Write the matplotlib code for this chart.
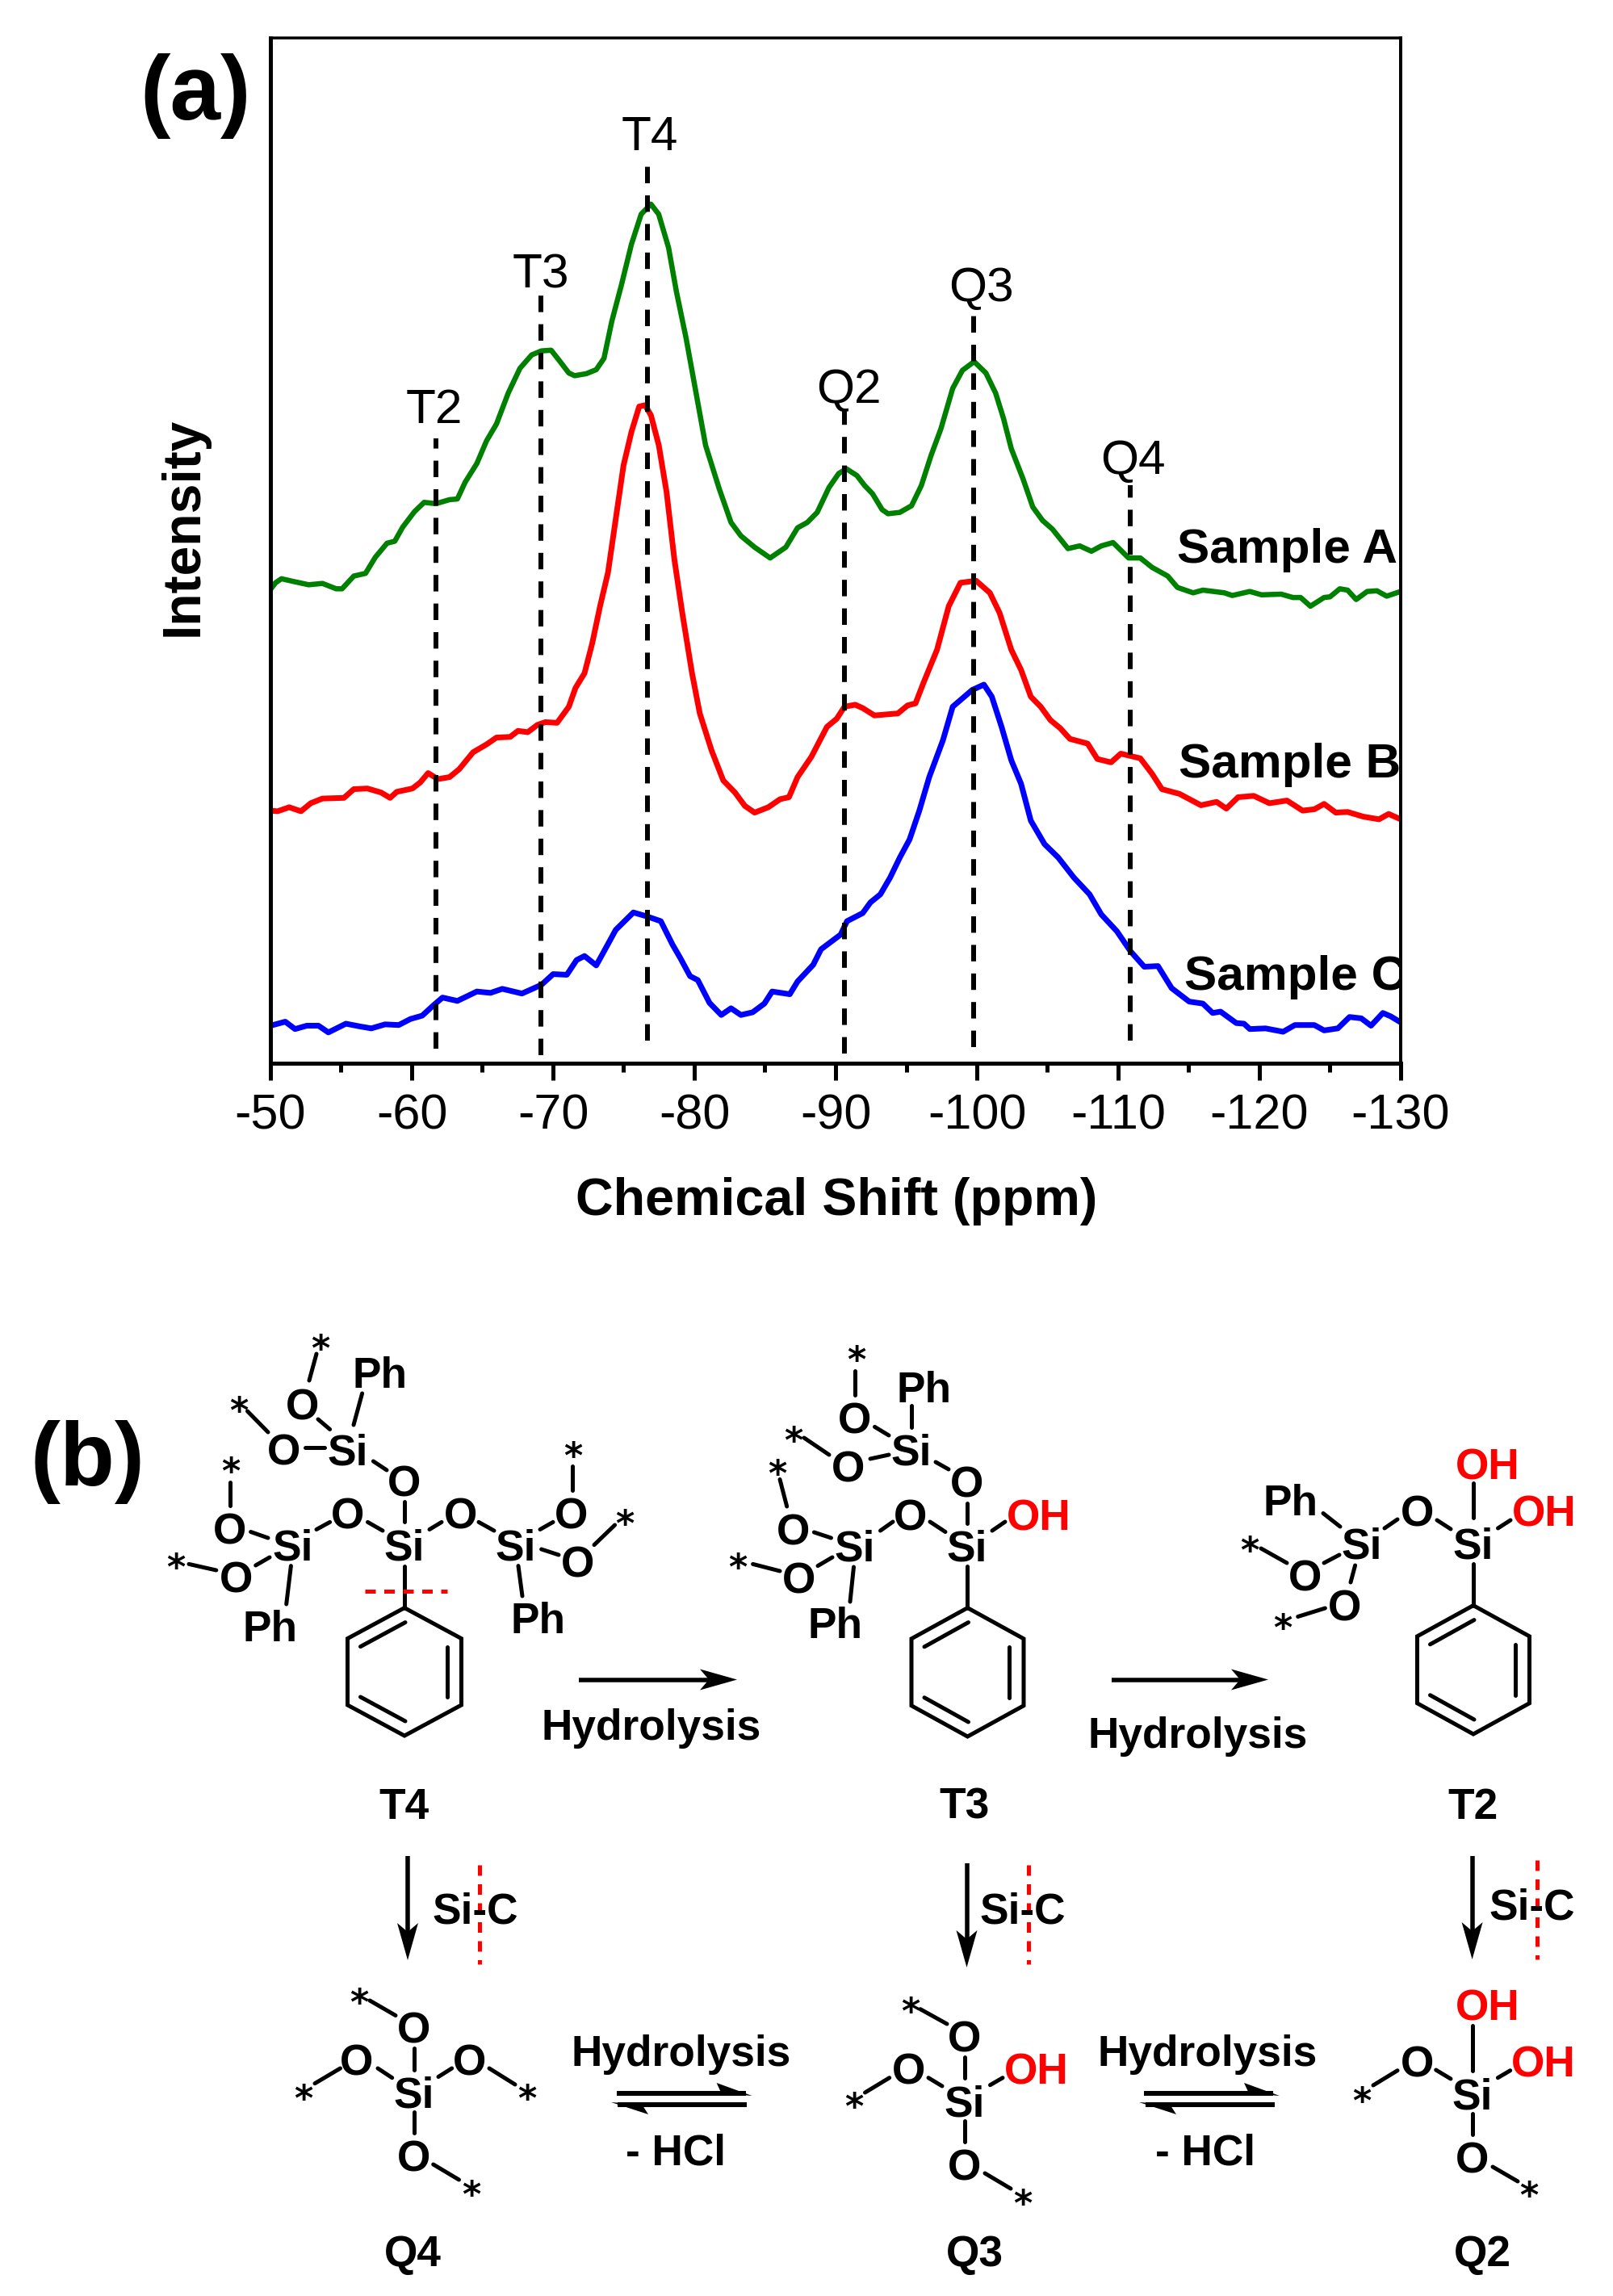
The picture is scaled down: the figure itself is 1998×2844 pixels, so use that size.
import matplotlib
matplotlib.use("Agg")
import matplotlib.pyplot as plt
from matplotlib.patches import Polygon

plt.rcParams['font.family'] = ['Liberation Sans', 'DejaVu Sans']

# Spectra (ppm, offset intensity in arbitrary units)
ppm_a = [-50.0, -50.36, -50.78, -51.61, -52.71, -53.68, -54.65, -55.07, -55.90, -56.73, -57.42, -58.25, -58.80,
         -59.36, -60.19, -60.88, -61.71, -62.68, -63.23, -63.78, -64.61, -65.30, -66.0, -66.83, -67.66, -68.49,
         -69.18, -69.87, -70.43, -71.12, -71.53, -72.36, -73.06, -73.61, -74.16, -74.85, -75.55, -76.24, -76.93,
         -77.48, -78.18, -78.73, -79.42, -80.11, -80.80, -81.77, -82.60, -83.30, -84.27, -85.37, -86.48, -87.31,
         -88.0, -88.70, -89.53, -90.22, -90.77, -91.51, -92.06, -92.61, -93.30, -93.72, -94.55, -95.38, -96.07,
         -96.76, -97.46, -98.29, -98.98, -99.81, -100.64, -101.33, -101.89, -102.44, -103.27, -103.96, -104.65,
         -105.35, -106.45, -107.28, -108.11, -108.81, -109.64, -110.74, -111.57, -112.40, -113.51, -114.20,
         -115.31, -116.0, -117.52, -118.08, -119.32, -120.15, -121.54, -122.37, -122.92, -123.61, -124.58,
         -125.0, -125.69, -126.24, -126.85, -127.63, -128.32, -129.01, -130.0]
int_a = [707, 717, 723, 719, 714, 716, 708, 708, 727, 731, 755, 776, 779,
         800, 823, 837, 835, 841, 842, 867, 895, 929, 954, 1000, 1037, 1057,
         1063, 1064, 1049, 1030, 1026, 1029, 1035, 1052, 1107, 1162, 1222, 1267, 1282,
         1267, 1217, 1152, 1082, 1002, 922, 857, 807, 787, 770, 754, 770, 799,
         807, 822, 859, 880, 887, 877, 862, 850, 826, 820, 822, 832, 862,
         907, 947, 1007, 1034, 1047, 1030, 1000, 962, 917, 872, 830, 810,
         797, 768, 772, 764, 772, 777, 754, 754, 740, 727, 710,
         702, 706, 702, 698, 704, 699, 700, 695, 695, 682, 695,
         696, 708, 706, 692, 704, 705, 697, 704]

ppm_b = [-50.0, -50.50, -51.33, -52.16, -52.85, -53.68, -55.20, -55.90, -56.86, -57.83, -58.47, -58.94, -60.05,
         -60.60, -61.16, -61.85, -62.68, -63.37, -64.34, -65.31, -66.0, -66.97, -67.52, -68.21, -68.90, -69.46,
         -70.29, -71.12, -71.59, -72.23, -72.78, -73.33, -73.89, -74.44, -74.99, -75.55, -76.10, -76.52, -76.93,
         -77.49, -78.04, -78.59, -79.15, -79.84, -80.39, -81.22, -82.05, -82.88, -83.58, -84.27, -85.24, -86.07,
         -86.70, -87.31, -88.28, -89.39, -90.08, -90.63, -91.39, -91.92, -92.75, -94.41, -95.10, -95.66, -96.21,
         -97.18, -98.01, -98.84, -99.95, -100.92, -101.61, -102.44, -103.13, -103.82, -104.52, -105.21, -105.90,
         -106.59, -107.84, -108.53, -109.50, -110.19, -111.57, -112.40, -113.10, -114.34, -115.86, -116.97,
         -117.66, -118.49, -119.60, -120.71, -121.95, -123.06, -123.89, -124.58, -125.41, -126.24, -127.35,
         -128.46, -129.15, -130.0]
int_b = [377, 376, 382, 376, 388, 395, 396, 409, 410, 404, 396, 405, 410,
         419, 433, 424, 427, 439, 464, 476, 486, 487, 496, 494, 505, 509,
         508, 532, 560, 582, 627, 682, 732, 812, 892, 942, 980, 982, 967,
         922, 852, 752, 672, 582, 522, 467, 422, 404, 384, 374, 382, 394,
         397, 427, 457, 502, 514, 532, 535, 530, 519, 522, 534, 537, 567,
         617, 682, 717, 720, 702, 672, 617, 587, 547, 532, 512, 500,
         484, 477, 454, 449, 462, 455, 432, 409, 402, 385, 390,
         380, 397, 399, 388, 392, 377, 379, 387, 374, 375, 368,
         364, 372, 364]

ppm_c = [-50.0, -51.05, -51.74, -52.57, -53.40, -54.10, -55.34, -56.31, -57.14, -58.11, -59.08, -59.91, -60.74,
         -61.57, -62.18, -63.23, -64.61, -65.58, -66.41, -67.80, -69.18, -70.01, -70.98, -71.67, -72.23, -73.06,
         -73.61, -74.44, -75.69, -76.66, -77.63, -78.46, -79.01, -79.70, -80.25, -81.08, -81.91, -82.60, -83.30,
         -84.13, -84.96, -85.51, -86.76, -87.31, -88.42, -88.97, -90.36, -90.81, -91.92, -92.47, -93.17, -93.86,
         -94.55, -95.24, -95.93, -96.63, -97.60, -98.29, -99.67, -100.50, -101.06, -101.75, -102.44, -103.13,
         -103.82, -104.79, -105.76, -106.87, -107.98, -108.81, -109.91, -110.88, -111.85, -112.82, -113.79,
         -115.03, -116.0, -116.69, -117.25, -118.36, -118.91, -119.32, -120.43, -121.68, -122.51, -123.89,
         -124.58, -125.55, -126.38, -127.21, -127.90, -128.74, -129.29, -130.0]
int_c = [56, 62, 51, 56, 56, 46, 59, 55, 52, 58, 57, 66, 71,
         87, 98, 93, 107, 105, 111, 104, 117, 133, 132, 154, 160, 146,
         167, 199, 225, 219, 212, 177, 157, 130, 124, 90, 72, 82, 72,
         76, 89, 107, 103, 122, 147, 170, 192, 212, 224, 240, 252, 277,
         307, 334, 377, 427, 482, 532, 557, 565, 547, 502, 452, 417,
         362, 327, 307, 277, 252, 222, 197, 167, 144, 145, 112,
         92, 89, 75, 77, 60, 59, 51, 52, 47, 57, 57,
         49, 52, 69, 67, 56, 75, 70, 61]

# Peak assignments: marker line position and extent, label position
peak_names = ['T2', 'T3', 'T4', 'Q2', 'Q3', 'Q4']
peak_ppm = [-61.7, -69.12, -76.67, -90.64, -99.75, -110.83]
peak_low = [22, 12, 34, 14, 24, 34]
peak_high = [932, 1147, 1352, 974, 1117, 862]
label_ppm = [-61.57, -69.14, -76.86, -90.91, -100.29, -111.06]
label_int = [955, 1157, 1362, 985, 1137, 880]

sample_names = ['Sample A', 'Sample B', 'Sample C']
sample_ppm = [-114.2, -114.3, -114.7]
sample_int = [747, 427, 110]

major_ticks = [-50, -60, -70, -80, -90, -100, -110, -120, -130]
minor_ticks = [-55, -65, -75, -85, -95, -105, -115, -125]

W, H = 1998, 2844
PX = 0.72  # one pixel in points at dpi 100

fig = plt.figure(figsize=(W / 100, H / 100), dpi=100, facecolor='white')
ax = fig.add_axes([335 / W, 1 - 1317 / H, 1400 / W, 1270 / H])

ax.plot(ppm_a, int_a, color='#008000', lw=6.5 * PX, solid_joinstyle='round')
ax.plot(ppm_b, int_b, color='#ff0000', lw=7 * PX, solid_joinstyle='round')
ax.plot(ppm_c, int_c, color='#0000ff', lw=7 * PX, solid_joinstyle='round')

for ppm, low, high in zip(peak_ppm, peak_low, peak_high):
    ax.plot([ppm, ppm], [low, high], color='black', lw=6 * PX, dashes=(3.4, 2.5), dash_capstyle='butt')
for name, x, y in zip(peak_names, label_ppm, label_int):
    ax.text(x, y, name, fontsize=43.5, ha='center', va='baseline')
for name, x, y in zip(sample_names, sample_ppm, sample_int):
    ax.text(x, y, name, fontsize=43.5, fontweight='bold', ha='left', va='baseline', clip_on=True)

ax.set_xlim(-50, -130)
ax.set_ylim(0, 1530)
ax.set_yticks([])
ax.set_xticks(major_ticks)
ax.set_xticklabels([str(t) for t in major_ticks], fontsize=44)
ax.set_xticks(minor_ticks, minor=True)
ax.tick_params(axis='x', which='major', length=21 * PX, width=5 * PX, pad=12)
ax.tick_params(axis='x', which='minor', length=11 * PX, width=5 * PX)
ax.spines['left'].set_linewidth(5 * PX)
ax.spines['bottom'].set_linewidth(5 * PX)
ax.spines['right'].set_linewidth(4 * PX)
ax.spines['top'].set_linewidth(3.5 * PX)

ax.set_xlabel('Chemical Shift (ppm)', fontsize=46.5, fontweight='bold', va='baseline')
ax.xaxis.set_label_coords(0.5007, -0.148)
ax.set_ylabel('Intensity', fontsize=47.5, fontweight='bold', va='baseline')
ax.yaxis.set_label_coords(-0.0643, 0.5235)

# Overlay in image pixels for the panel letters and the reaction scheme
pix = fig.add_axes([0, 0, 1, 1], facecolor='none')
pix.set_xlim(0, W)
pix.set_ylim(H, 0)
pix.axis('off')

FS = 38.3
EM = FS / PX


def atom(label, x, y, color='black'):
    # x, y is the centre of the letters
    pix.text(x, y + 0.358 * EM, label, fontsize=FS, fontweight='bold', color=color, ha='center', va='baseline')


def star(x, y):
    pix.text(x, y + 22, '*', fontsize=32, fontweight='bold', family='DejaVu Sans', ha='center', va='baseline')


def word(label, x, y):
    # x is the centre, y the baseline
    pix.text(x, y, label, fontsize=FS, fontweight='bold', ha='center', va='baseline')


def bonds(items):
    for x0, y0, x1, y1 in items:
        pix.plot([x0, x1], [y0, y1], color='black', lw=5 * PX, solid_capstyle='round')


def phenyl(cx, top, bottom, half):
    upper = top + (bottom - top) * 0.24
    lower = top + (bottom - top) * 0.76
    pts = [(cx, top), (cx + half, upper), (cx + half, lower), (cx, bottom), (cx - half, lower), (cx - half, upper), (cx, top)]
    pix.plot([p[0] for p in pts], [p[1] for p in pts], color='black', lw=5 * PX, solid_joinstyle='miter')
    bonds([(cx - half + 16, upper + 10, cx + 1, top + 18),
           (cx + half - 18, upper + 10, cx + half - 18, lower - 10),
           (cx - half + 16, lower - 10, cx + 1, bottom - 18)])


def arrow(x0, y0, x1, y1):
    ux = (x1 > x0) - (x1 < x0)
    uy = (y1 > y0) - (y1 < y0)
    pix.plot([x0, x1 - ux * 30], [y0, y1 - uy * 30], color='black', lw=5.5 * PX, solid_capstyle='butt')
    head = [(x1, y1),
            (x1 - ux * 46 - uy * 13, y1 - uy * 46 - ux * 13),
            (x1 - ux * 35, y1 - uy * 35),
            (x1 - ux * 46 + uy * 13, y1 - uy * 46 + ux * 13)]
    pix.add_patch(Polygon(head, closed=True, color='black', lw=0))


def equilibrium(left_low, right_up):
    # upper harpoon points right, lower harpoon points left
    pix.plot([right_up - 168, right_up - 8], [2593, 2593], color='black', lw=6 * PX, solid_capstyle='butt')
    pix.add_patch(Polygon([(right_up, 2596), (right_up - 44, 2580), (right_up - 38, 2593)], closed=True, color='black', lw=0))
    pix.plot([left_low + 8, left_low + 168], [2606.5, 2606.5], color='black', lw=6 * PX, solid_capstyle='butt')
    pix.add_patch(Polygon([(left_low, 2604), (left_low + 46, 2619), (left_low + 38, 2606.5)], closed=True, color='black', lw=0))


def red_dash(xs, ys):
    pix.plot(xs, ys, color='#ff0000', lw=5 * PX, dashes=(2.6, 2.1), dash_capstyle='butt')


pix.text(242, 148, '(a)', fontsize=81, fontweight='bold', ha='center', va='baseline')
pix.text(108, 1840, '(b)', fontsize=80, fontweight='bold', ha='center', va='baseline')

# T4
for label, x, y in [('Ph', 470.6, 1700), ('O', 375, 1739), ('O', 351.4, 1795.6), ('Si', 431, 1795.6),
                    ('O', 501, 1834.7), ('O', 431, 1874.6), ('Si', 501, 1913.6), ('O', 570.6, 1874.6),
                    ('Si', 639, 1913.6), ('O', 708, 1874.6), ('O', 716, 1934), ('Si', 362.4, 1913.6),
                    ('O', 285, 1893), ('O', 293, 1953), ('Ph', 334, 2014), ('Ph', 666, 2004)]:
    atom(label, x, y)
for x, y in [(296, 1740), (397, 1663), (710, 1795.6), (774, 1880), (286, 1815), (217.6, 1934.4)]:
    star(x, y)
bonds([(383, 1710, 392, 1677), (438, 1765, 448.6, 1726), (394, 1758, 408.6, 1770.5), (332, 1774, 306.5, 1748),
       (377.6, 1793, 401.6, 1793), (462.4, 1810, 479, 1821), (501, 1860, 501, 1885), (455.5, 1885.4, 474, 1896),
       (392, 1894.5, 408.6, 1885.4), (532, 1894.5, 547, 1885.4), (593, 1885.4, 612, 1896), (669, 1894.5, 685, 1885.4),
       (670.6, 1919, 692, 1926), (736, 1913.6, 761.6, 1889), (708.6, 1845.5, 708.6, 1816), (285, 1865, 285, 1835.5),
       (310.6, 1897.5, 332, 1905), (316.7, 1939, 334, 1929), (267.8, 1945, 234, 1937.4), (360.4, 1939.6, 354.7, 1987),
       (642, 1939.6, 647, 1977), (501, 1939.6, 501, 1991)])
phenyl(501, 1991.6, 2150, 70.5)
red_dash([452, 553.5], [1971, 1971])
word('T4', 500, 2252.6)

# T3
for label, x, y in [('Ph', 1145, 1717.6), ('O', 1059, 1756.6), ('O', 1051, 1816), ('Si', 1129, 1795.6),
                    ('O', 1198, 1835.5), ('O', 982.5, 1894), ('O', 1127.7, 1876), ('Si', 1059, 1914),
                    ('Si', 1198, 1914), ('O', 990, 1954), ('Ph', 1034, 2010)]:
    atom(label, x, y)
atom('OH', 1287, 1876, '#ff0000')
for x, y in [(1061, 1677), (983, 1777), (963, 1818), (913.7, 1934)]:
    star(x, y)
bonds([(1059, 1727.5, 1059, 1698), (1129, 1768, 1129, 1740.6), (1083.5, 1767.4, 1101, 1778), (1027, 1802, 996, 1781),
       (1078, 1807, 1101, 1802), (1159, 1811, 1175, 1820), (1198, 1861.5, 1198, 1887), (1152, 1885, 1171, 1897.5),
       (1106, 1885, 1090.5, 1896), (1008.4, 1898, 1029.5, 1905), (1013, 1939.6, 1031, 1929), (966, 1946, 932.6, 1937.4),
       (974.7, 1866, 966, 1832.5), (1057.5, 1941, 1053, 1984), (1198, 1939.6, 1198, 1991), (1229, 1896, 1245, 1885)])
phenyl(1198.5, 1991.6, 2151, 69.5)
word('T3', 1195, 2252.6)

# T2
for label, x, y in [('Ph', 1598, 1857.6), ('O', 1756, 1871.5), ('Si', 1687, 1911.4), ('Si', 1825, 1911.4),
                    ('O', 1617, 1951), ('O', 1666, 1988.6)]:
    atom(label, x, y)
atom('OH', 1843, 1813, '#ff0000')
atom('OH', 1913, 1871.5, '#ff0000')
for x, y in [(1548, 1912.7), (1589, 2009)]:
    star(x, y)
bonds([(1825, 1880, 1825, 1837), (1780, 1883, 1797, 1894), (1731, 1882, 1715, 1893), (1660, 1891, 1639, 1874.5),
       (1594, 1936, 1562, 1918), (1640, 1936, 1659, 1926), (1678.6, 1939, 1673, 1960), (1641.4, 1992, 1607.7, 2002.5),
       (1825, 1936.6, 1825, 1988), (1855.5, 1893, 1871, 1883)])
phenyl(1825, 1988.6, 2148, 69.5)
word('T2', 1824, 2252.6)

# Top row arrows
arrow(717, 2080.5, 913, 2080.5)
arrow(1377, 2080.5, 1571, 2080.5)
word('Hydrolysis', 807, 2155.5)
word('Hydrolysis', 1483.5, 2165.5)

# Si-C cleavage arrows
arrow(505, 2298.6, 505, 2428)
arrow(1197.5, 2308, 1197.5, 2437)
arrow(1823.6, 2298.6, 1823.6, 2427)
word('Si-C', 589, 2382.8)
word('Si-C', 1267, 2382.8)
word('Si-C', 1897.5, 2377.4)
red_dash([594, 594], [2310, 2433])
red_dash([1273.5, 1273.5], [2310, 2433])
red_dash([1903.6, 1903.6], [2303.5, 2426.7])

# Q4
for label, x, y in [('O', 513, 2511), ('O', 442, 2551), ('O', 582, 2551), ('Si', 513, 2591), ('O', 513, 2670)]:
    atom(label, x, y)
for x, y in [(445, 2473), (376, 2592), (653, 2592), (584, 2711)]:
    star(x, y)
bonds([(490, 2496.5, 458, 2478), (513, 2537, 513, 2563.5), (468, 2562, 485.7, 2573.7), (421.5, 2562, 390, 2580.7),
       (559.7, 2562, 543, 2572.5), (606, 2562, 638, 2582), (513, 2615.6, 513, 2642), (536.7, 2681, 568.5, 2700)])
word('Q4', 511, 2806.6)

# Q3
for label, x, y in [('O', 1126, 2562.6), ('O', 1195, 2522), ('Si', 1195, 2602.5), ('O', 1195, 2681)]:
    atom(label, x, y)
atom('OH', 1283.4, 2562, '#ff0000')
for x, y in [(1127.5, 2484), (1058, 2602.5), (1266.4, 2721.6)]:
    star(x, y)
bonds([(1140, 2488.7, 1173, 2507), (1101.7, 2573.7, 1071.5, 2592), (1150, 2573.7, 1167, 2584), (1195, 2548, 1195, 2573.7),
       (1226.5, 2582.7, 1242, 2573.7), (1195, 2627, 1195, 2652.6), (1220, 2692, 1252, 2711)])
word('Q3', 1207, 2806.6)

# Q2
for label, x, y in [('O', 1755.8, 2553), ('Si', 1824, 2593.4), ('O', 1824, 2672)]:
    atom(label, x, y)
atom('OH', 1843, 2483, '#ff0000')
atom('OH', 1912, 2553, '#ff0000')
for x, y in [(1687, 2595), (1894, 2712.5)]:
    star(x, y)
bonds([(1824, 2509, 1824, 2564.7), (1778.7, 2564, 1797, 2575), (1731, 2564.7, 1701, 2583), (1855.4, 2573.7, 1870.7, 2564.7),
       (1824, 2618, 1824, 2644), (1849, 2684, 1880, 2702)])
word('Q2', 1836, 2806.6)

# Bottom row equilibria
equilibrium(757, 931.6)
equilibrium(1411, 1585)
word('Hydrolysis', 844, 2559.3)
word('Hydrolysis', 1496, 2559.3)
word('- HCl', 836.7, 2681)
word('- HCl', 1493, 2681)

fig.savefig('out.png', dpi=100, facecolor='white')
